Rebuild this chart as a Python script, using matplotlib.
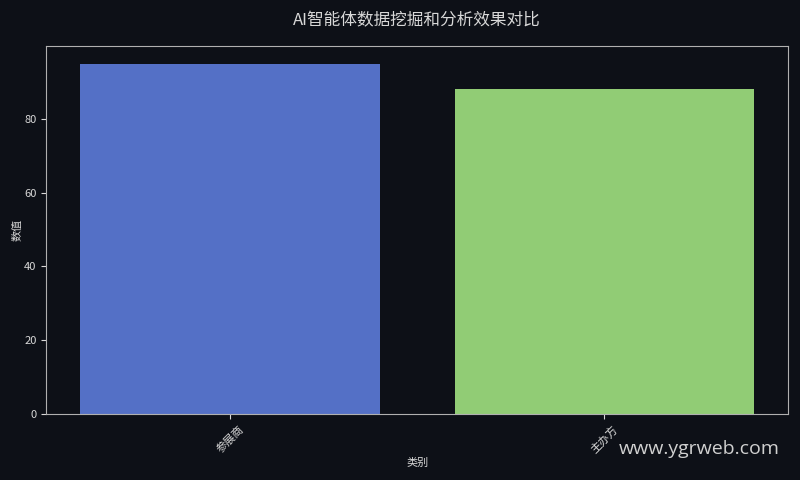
import matplotlib
matplotlib.use("Agg")
import matplotlib.pyplot as plt

plt.rcParams['font.family'] = ['Noto Sans CJK SC', 'DejaVu Sans']

# 数据
categories = ["参展商", "主办方"]
values = [95, 88]
bar_colors = ["#5470c6", "#91cc75"]

bg = "#0d1017"
fg = "#d8d8d8"

fig = plt.figure(figsize=(8, 4.8), dpi=100, facecolor=bg)
ax = fig.add_axes([0.0578, 0.1375, 0.9272, 0.7665])
ax.set_facecolor(bg)

x = range(len(categories))
ax.bar(x, values, width=0.8, color=bar_colors)
ax.set_xlim(-0.49, len(categories) - 0.51)
ax.set_ylim(0, max(values) * 1.05)

ax.set_xticks(list(x))
ax.set_xticklabels(categories, rotation=45, fontsize=8, color=fg)
ax.set_yticks([0, 20, 40, 60, 80])
ax.tick_params(axis='y', labelsize=8, colors=fg)
ax.tick_params(axis='x', colors=fg)
for s in ax.spines.values():
    s.set_color("#b0b0b0")

ax.set_xlabel("类别", fontsize=8, color=fg, labelpad=2)
ax.set_ylabel("数值", fontsize=8, color=fg, labelpad=1)
ax.set_title("AI智能体数据挖掘和分析效果对比", fontsize=12, color=fg, pad=15)

fig.text(0.975, 0.065, "www.ygrweb.com", fontsize=14, color="#d0d0d0",
         ha="right", va="center", family=["Open Sans", "DejaVu Sans"])

fig.savefig("out.png", dpi=100, facecolor=bg)
